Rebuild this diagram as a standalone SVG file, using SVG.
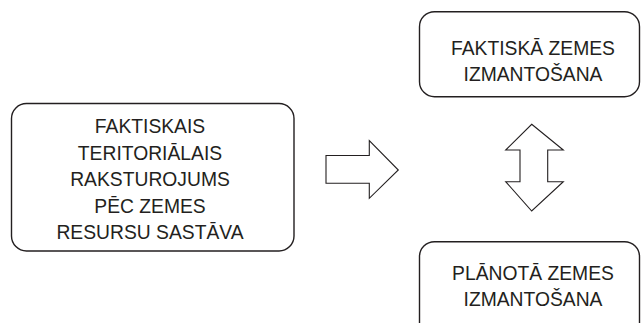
<svg xmlns="http://www.w3.org/2000/svg" width="641" height="323" viewBox="0 0 641 323">
  <style>
    .box { fill: #ffffff; stroke: #231f20; stroke-width: 1.4; }
    .arrow { fill: #ffffff; stroke: #231f20; stroke-width: 1.1; stroke-linejoin: miter; }
    .label { font-family: "Liberation Sans", Arial, sans-serif; font-size: 19.3px; fill: #231f20; text-anchor: middle; }
  </style>
  <rect width="641" height="323" fill="#ffffff"/>

  <g id="node-faktiskais">
    <rect class="box" x="11.5" y="103.5" width="282.5" height="147.5" rx="15" ry="15"/>
    <text class="label" x="150" y="133.3">FAKTISKAIS</text>
    <text class="label" x="150" y="159.8">TERITORIĀLAIS</text>
    <text class="label" x="150" y="186.3">RAKSTUROJUMS</text>
    <text class="label" x="150" y="212.8">PĒC ZEMES</text>
    <text class="label" x="150" y="239.3">RESURSU SASTĀVA</text>
  </g>

  <g id="node-faktiska">
    <rect class="box" x="419.5" y="11.7" width="220" height="85" rx="15" ry="15"/>
    <text class="label" x="533" y="55">FAKTISKĀ ZEMES</text>
    <text class="label" x="533" y="80.5">IZMANTOŠANA</text>
  </g>

  <g id="node-planota">
    <rect class="box" x="419.5" y="241.7" width="220" height="100" rx="15" ry="15"/>
    <text class="label" x="533" y="279.5">PLĀNOTĀ ZEMES</text>
    <text class="label" x="533" y="305.5">IZMANTOŠANA</text>
  </g>

  <g id="connectors">
    <!-- block arrow pointing right -->
    <polygon class="arrow" points="326,155.5 369.3,155.5 369.3,140.5 398.3,170 369.3,198.3 369.3,183.3 326,183.3"/>
    <!-- two-headed vertical block arrow -->
    <polygon class="arrow" points="531.7,124.3 563.3,150 547.7,150 547.7,181.7 563.3,181.7 531.7,211 505.7,181.7 520,181.7 520,150 505.7,150"/>
  </g>
</svg>
